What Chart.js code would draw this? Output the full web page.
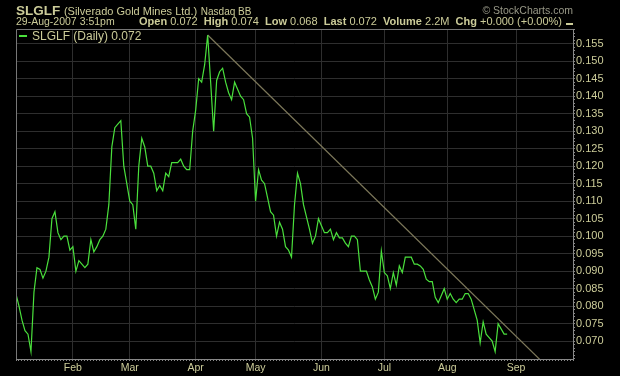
<!DOCTYPE html>
<html>
<head>
<meta charset="utf-8">
<script src="https://cdn.jsdelivr.net/npm/chart.js@4.4.1/dist/chart.umd.min.js"></script>
<style>
    body { margin: 0; background: #000; }
    #wrap { position: relative; width: 620px; height: 376px; background: #000; font-family: "Liberation Sans", Arial, sans-serif; color: #cccc99; }
    #wrap canvas { position: absolute; left: 0; top: 0; }
    .abs { position: absolute; white-space: nowrap; }
    #title { left: 16px; top: 3px; font-size: 13px; line-height: 15px; }
    #title b { font-size: 13.5px; }
    #title .name { font-size: 11px; }
    #title .exch { font-size: 10px; }
    #credit { right: 47px; top: 4px; font-size: 10.5px; line-height: 12px; color: #999988; }
    #date { left: 16px; top: 15px; font-size: 10.5px; line-height: 13px; }
    #stats { right: 58px; top: 15px; font-size: 11px; line-height: 13px; }
    #dash { left: 566px; top: 23px; width: 7px; height: 2px; background: #cccc99; }
    #legline { left: 19px; top: 35px; width: 8px; height: 2px; background: #4ae03c; }
    #legtext { left: 32px; top: 29px; font-size: 12px; line-height: 14px; }
</style>
</head>
<body>
<div id="wrap">
    <canvas id="price-chart" width="620" height="376"></canvas>
    <div id="title" class="abs"><b>SLGLF</b> <span class="name">(Silverado Gold Mines Ltd.)</span> <span class="exch">Nasdaq BB</span></div>
    <div id="credit" class="abs">© StockCharts.com</div>
    <div id="date" class="abs">29-Aug-2007 3:51pm</div>
    <div id="stats" class="abs"><b>Open</b> 0.072&nbsp; <b>High</b> 0.074&nbsp; <b>Low</b> 0.068&nbsp; <b>Last</b> 0.072&nbsp; <b>Volume</b> 2.2M&nbsp; <b>Chg</b> +0.000 (+0.00%)</div>
    <div id="dash" class="abs"></div>
    <div id="legline" class="abs"></div>
    <div id="legtext" class="abs">SLGLF (Daily) 0.072</div>
</div>
<script>
// daily closes, one per trading day (early Jan -> 29 Aug 2007)
const closes = [
    0.0834, 0.080, 0.076, 0.073, 0.072, 0.067, 0.084, 0.091, 0.0905, 0.088,
    0.090, 0.094, 0.105, 0.107, 0.101, 0.099, 0.100, 0.100, 0.096, 0.097,
    0.090, 0.093, 0.092, 0.091, 0.092, 0.099, 0.0955, 0.097, 0.099, 0.100,
    0.102, 0.109, 0.1255, 0.131, 0.132, 0.133, 0.120, 0.115, 0.110, 0.109,
    0.102, 0.120, 0.128, 0.1255, 0.120, 0.120, 0.118, 0.113, 0.1145, 0.113,
    0.118, 0.117, 0.121, 0.121, 0.121, 0.122, 0.120, 0.119, 0.119, 0.130,
    0.136, 0.145, 0.144, 0.149, 0.1575, 0.144, 0.130, 0.1445, 0.147, 0.148,
    0.144, 0.141, 0.139, 0.144, 0.142, 0.140, 0.139, 0.135, 0.134, 0.128,
    0.110, 0.119, 0.116, 0.115, 0.111, 0.107, 0.106, 0.100, 0.104, 0.102,
    0.097, 0.096, 0.094, 0.109, 0.118, 0.115, 0.109, 0.1055, 0.102, 0.098,
    0.100, 0.105, 0.103, 0.101, 0.101, 0.102, 0.099, 0.101, 0.0995, 0.0995,
    0.098, 0.097, 0.100, 0.100, 0.099, 0.090, 0.090, 0.090, 0.0875, 0.0855,
    0.082, 0.084, 0.0958, 0.0896, 0.0887, 0.085, 0.0896, 0.086, 0.0915, 0.0896,
    0.094, 0.094, 0.094, 0.092, 0.092, 0.0915, 0.0905, 0.0877, 0.087, 0.087,
    0.0825, 0.081, 0.083, 0.085, 0.082, 0.0836, 0.082, 0.081, 0.082, 0.082,
    0.0836, 0.0836, 0.082, 0.079, 0.076, 0.0695, 0.0755, 0.072, 0.071, 0.070,
    0.067, 0.075, 0.0735, 0.072, 0.072,
];

// trading-day index of the first session of each month
const monthIdx = [19, 38, 60, 80, 102, 123, 144, 167];
const monthNames = ["Feb", "Mar", "Apr", "May", "Jun", "Jul", "Aug", "Sep"];

// trend line drawn from the April high
const trendX = [64, 175];
const trendY = [0.1575, 0.0647];

const yTickLabels = ["0.070", "0.075", "0.080", "0.085", "0.090", "0.095", "0.100", "0.105", "0.110",
    "0.115", "0.120", "0.125", "0.130", "0.135", "0.140", "0.145", "0.150", "0.155"];

const X_MAX = 186;
const Y_MIN = 0.0649;
const Y_MAX = 0.1592;

const khaki = "#cccc99";
const gridColor = "#2e2e2e";
const tickFont = { family: "Liberation Sans", size: 11 };

function isMajorY(v) {
    return yTickLabels.includes(v.toFixed(3)) && Math.abs(v * 1000 - Math.round(v * 1000)) < 1e-6;
}

const frame = {
    id: "frame",
    afterDraw(chart) {
        const { ctx, chartArea: a } = chart;
        ctx.save();
        ctx.strokeStyle = "#777";
        ctx.lineWidth = 1;
        ctx.beginPath();
        ctx.moveTo(a.left + 0.5, a.bottom);
        ctx.lineTo(a.left + 0.5, a.top + 0.5);
        ctx.lineTo(a.right, a.top + 0.5);
        ctx.stroke();
        ctx.restore();
    },
};

new Chart(document.querySelector("#price-chart"), {
    type: "line",
    data: {
        datasets: [
            {
                label: "SLGLF (Daily)",
                data: closes.map((v, i) => ({ x: i, y: v })),
                borderColor: "#4ae03c",
                borderWidth: 1.2,
                pointRadius: 0,
                tension: 0,
            },
            {
                label: "trend",
                data: trendX.map((x, i) => ({ x: x, y: trendY[i] })),
                borderColor: "#7d785a",
                borderWidth: 1.2,
                pointRadius: 0,
            },
        ],
    },
    options: {
        responsive: false,
        animation: false,
        devicePixelRatio: 1,
        layout: { padding: { left: 16, top: 29, right: 0, bottom: 0 } },
        plugins: { legend: { display: false }, tooltip: { enabled: false } },
        scales: {
            x: {
                type: "linear",
                min: 0,
                max: X_MAX,
                afterBuildTicks: (s) => {
                    const t = [];
                    for (let i = 0; i <= X_MAX; i++) t.push({ value: i });
                    s.ticks = t;
                },
                afterFit: (s) => { s.height = 17; },
                ticks: {
                    autoSkip: false,
                    maxRotation: 0,
                    padding: 1,
                    color: khaki,
                    font: { family: "Liberation Sans", size: 10.5 },
                    callback: (v) => {
                        const k = monthIdx.indexOf(v);
                        return k >= 0 ? monthNames[k] : "";
                    },
                },
                grid: {
                    color: (c) => (c.tick && monthIdx.includes(c.tick.value) ? gridColor : "rgba(0,0,0,0)"),
                    tickColor: "#888",
                    tickLength: 2,
                },
                border: { color: "#888" },
            },
            y: {
                position: "right",
                min: Y_MIN,
                max: Y_MAX,
                afterBuildTicks: (s) => {
                    const t = [];
                    for (let k = 65; k <= 159; k++) t.push({ value: k / 1000 });
                    s.ticks = t;
                },
                afterFit: (s) => { s.width = 47; },
                ticks: {
                    autoSkip: false,
                    padding: 1,
                    color: khaki,
                    font: tickFont,
                    callback: (v) => (isMajorY(v) ? v.toFixed(3) : ""),
                },
                grid: {
                    color: (c) => (c.tick && isMajorY(c.tick.value) ? gridColor : "rgba(0,0,0,0)"),
                    tickColor: "#888",
                    tickLength: 2,
                },
                border: { color: "#888" },
            },
        },
    },
    plugins: [frame],
});
</script>
</body>
</html>
